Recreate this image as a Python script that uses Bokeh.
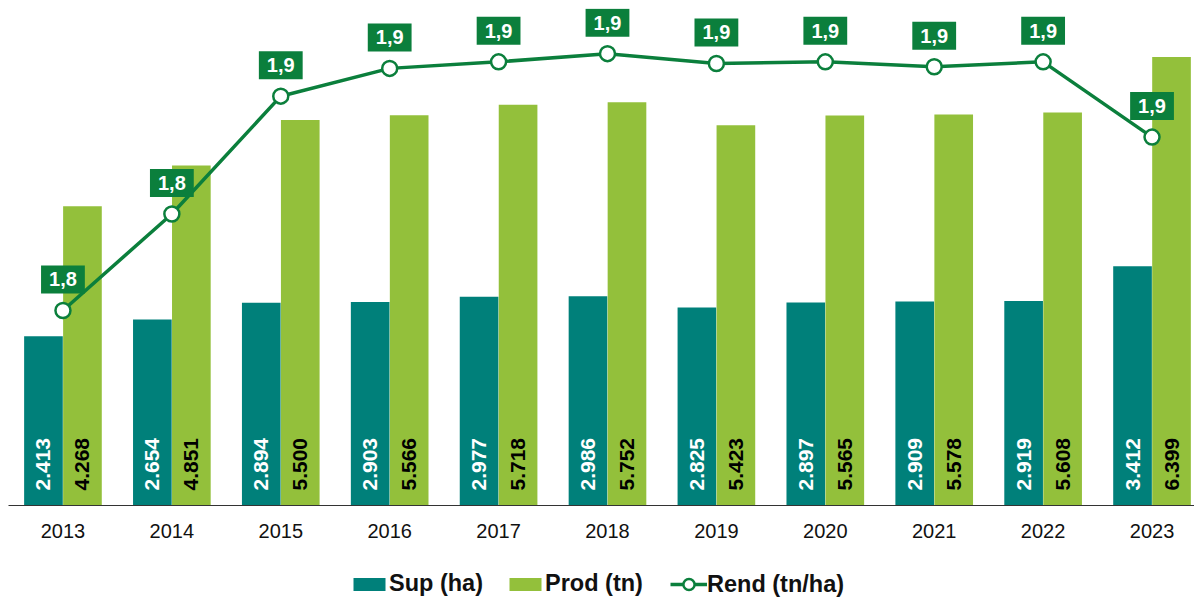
from bokeh.plotting import figure
from bokeh.models import Range1d, ColumnDataSource, Legend, LegendItem, FixedTicker
from bokeh.layouts import column
from bokeh.transform import dodge
from bokeh.core.properties import value
from bokeh.embed import file_html
from bokeh.resources import INLINE
import math

years = [2013, 2014, 2015, 2016, 2017, 2018, 2019, 2020, 2021, 2022, 2023]
sup_ha = [2413, 2654, 2894, 2903, 2977, 2986, 2825, 2897, 2909, 2919, 3412]
prod_tn = [4268, 4851, 5500, 5566, 5718, 5752, 5423, 5565, 5578, 5608, 6399]
rend = [1.769, 1.828, 1.900, 1.917, 1.921, 1.926, 1.920, 1.921, 1.918, 1.921, 1.875]
series_names = ["Sup (ha)", "Prod (tn)", "Rend (tn/ha)"]

TEAL = "#00807A"
GREEN = "#93C03B"
DKGREEN = "#0B7F3C"
FONT = "Liberation Sans"

def fmt_thousands(v):
    return f"{v:,}".replace(",", ".")

def fmt_dec(v):
    return f"{v:.1f}".replace(".", ",")

src = ColumnDataSource(dict(
    year=years,
    sup=sup_ha,
    prod=prod_tn,
    rend=rend,
    sup_lbl=[fmt_thousands(v) for v in sup_ha],
    prod_lbl=[fmt_thousands(v) for v in prod_tn],
    rend_lbl=[fmt_dec(v) for v in rend],
))

p = figure(width=1194, height=560, output_backend="svg", toolbar_location=None,
           x_range=Range1d(2012.5, 2023.39), y_range=Range1d(0, 7090),
           y_axis_location=None, min_border_left=8, min_border_right=0,
           min_border_top=8, min_border_bottom=55)
p.extra_y_ranges = {"rend": Range1d(1.6498, 1.9536)}
p.outline_line_color = None
p.xgrid.visible = False
p.ygrid.visible = False
p.background_fill_color = "white"
p.border_fill_color = "white"

bw = 0.355
off = 0.179
p.vbar(x=dodge("year", -off), top="sup", width=bw, source=src,
       fill_color=TEAL, line_color=None)
p.vbar(x=dodge("year", off), top="prod", width=bw, source=src,
       fill_color=GREEN, line_color=None)

p.text(x=dodge("year", -off), y=0, text="sup_lbl", source=src, angle=math.pi / 2,
       text_align="left", text_baseline="middle", y_offset=-15,
       text_font=value(FONT), text_font_size="21px", text_font_style="bold",
       text_color="white")
p.text(x=dodge("year", off), y=0, text="prod_lbl", source=src, angle=math.pi / 2,
       text_align="left", text_baseline="middle", y_offset=-15,
       text_font=value(FONT), text_font_size="21px", text_font_style="bold",
       text_color="black")

p.line(x="year", y="rend", source=src, y_range_name="rend",
       line_color=DKGREEN, line_width=3.5)
p.scatter(x="year", y="rend", source=src, y_range_name="rend",
          size=15, fill_color="white", line_color=DKGREEN, line_width=2.5)

p.text(x="year", y="rend", text="rend_lbl", source=src, y_range_name="rend",
       y_offset=-31, text_align="center", text_baseline="middle",
       text_font=value(FONT), text_font_size="20px", text_font_style="bold",
       text_color="white", background_fill_color=DKGREEN, padding=(8, 7))

ax = p.xaxis[0]
ax.ticker = FixedTicker(ticks=years)
ax.major_tick_line_color = None
ax.minor_tick_line_color = None
ax.major_label_standoff = 12
ax.axis_line_color = "#333333"
ax.axis_line_width = 1.2
ax.major_label_text_font = FONT
ax.major_label_text_font_size = "20px"
ax.major_label_text_color = "#111111"

# legend strip: glyph styles only, one placeholder point kept outside its view
lg = figure(width=1194, height=38, output_backend="svg", toolbar_location=None,
            x_range=Range1d(0, 1), y_range=Range1d(0, 1),
            x_axis_location=None, y_axis_location=None,
            min_border_left=0, min_border_right=0, min_border_top=0, min_border_bottom=0)
lg.outline_line_color = None
lg.xgrid.visible = False
lg.ygrid.visible = False
hidden = ColumnDataSource(dict(x=[-10, -11], y=[-10, -10]))
l_sup = lg.vbar(x="x", top="y", width=0.1, source=hidden, fill_color=TEAL, line_color=None)
l_prod = lg.vbar(x="x", top="y", width=0.1, source=hidden, fill_color=GREEN, line_color=None)
l_line = lg.line(x="x", y="y", source=hidden, line_color=DKGREEN, line_width=3.5)
l_pts = lg.scatter(x="x", y="y", source=hidden, size=15, fill_color="white",
                   line_color=DKGREEN, line_width=2.5)


def style_legend(lgd, gw, gh):
    lgd.label_text_font = FONT
    lgd.label_text_font_size = "23.5px"
    lgd.label_text_font_style = "bold"
    lgd.label_text_color = "#111111"
    lgd.glyph_width = gw
    lgd.glyph_height = gh
    lgd.label_standoff = 0
    lgd.spacing = 22
    lgd.padding = 0
    lgd.margin = 0
    lgd.border_line_color = None
    lgd.background_fill_alpha = 0


legend_bars = Legend(items=[
    LegendItem(label=series_names[0], renderers=[l_sup]),
    LegendItem(label=series_names[1], renderers=[l_prod]),
], orientation="horizontal", location=(341, 1))
style_legend(legend_bars, 40, 16)
lg.add_layout(legend_bars, "center")

legend_line = Legend(items=[
    LegendItem(label=series_names[2], renderers=[l_line, l_pts]),
], orientation="horizontal", location=(662, 0))
style_legend(legend_line, 37, 28)
lg.add_layout(legend_line, "center")

layout = column(p, lg, spacing=0)
open("out.html", "w").write(file_html(layout, INLINE))
